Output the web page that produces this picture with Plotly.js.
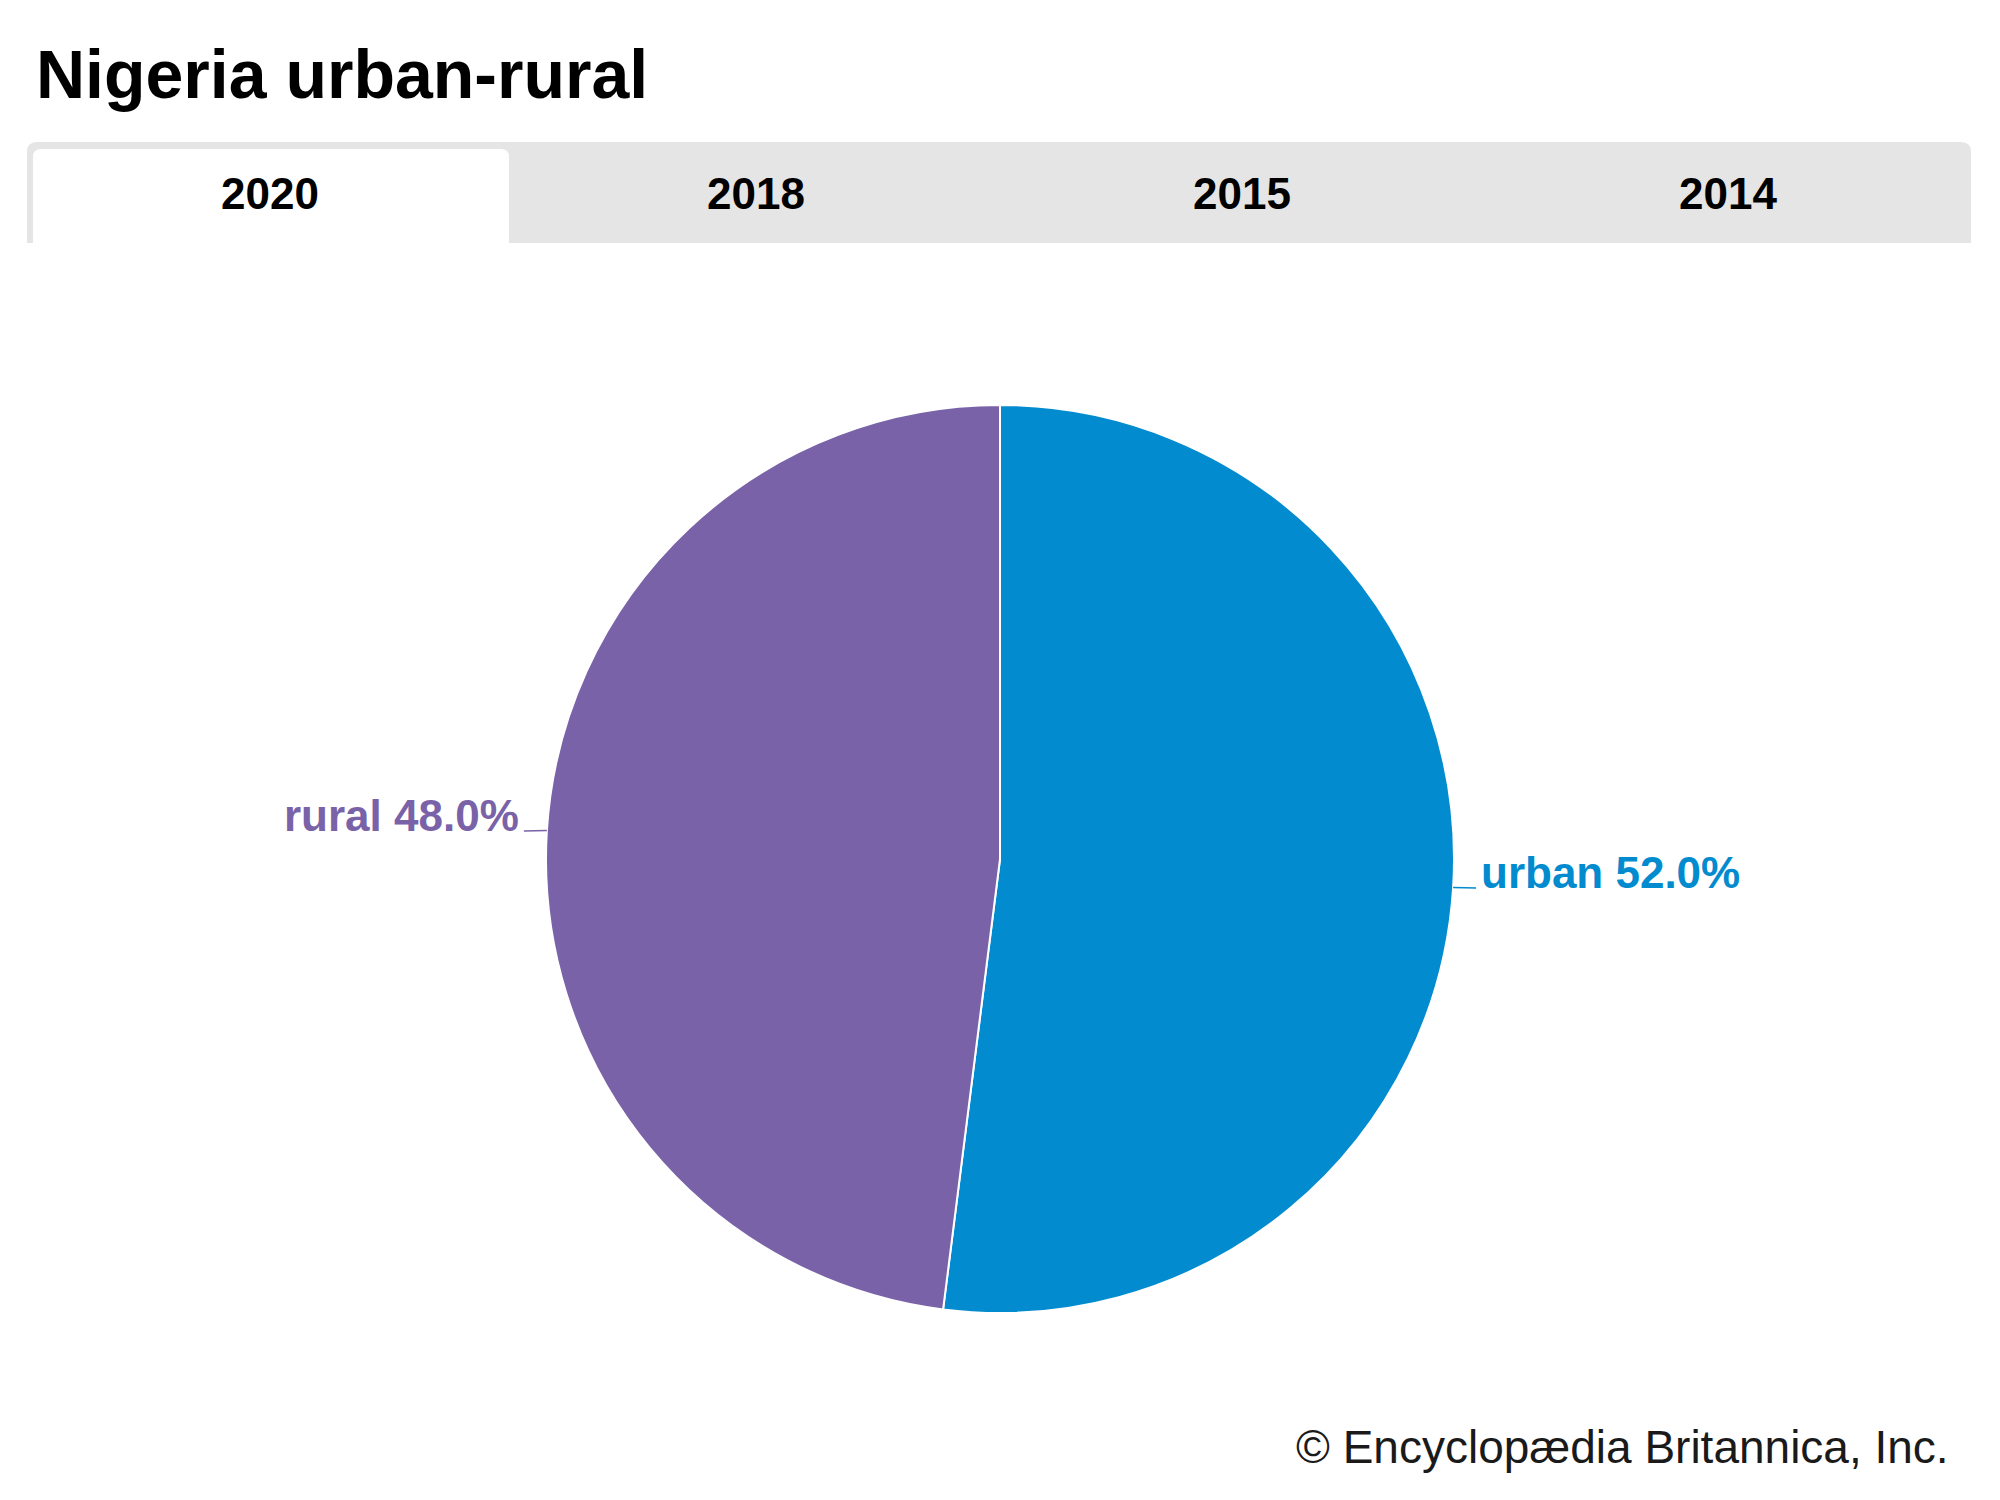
<!DOCTYPE html>
<html>
<head>
<meta charset="utf-8">
<script src="https://cdn.plot.ly/plotly-3.0.1.min.js"></script>
<style>
  html, body { margin: 0; padding: 0; background: #ffffff; }
  #chart { width: 2000px; height: 1500px; }
</style>
</head>
<body>
<div id="chart"></div>
<script>
// ---- data ----
const categories = ['urban', 'rural'];
const shares = [52.0, 48.0];
const sliceColors = ['#038bcf', '#7962a7'];
const tabYears = ['2020', '2018', '2015', '2014'];
const activeTab = '2020';
const chartTitle = 'Nigeria urban-rural';
const credit = '© Encyclopædia Britannica, Inc.';

// ---- layout geometry ----
const W = 2000, H = 1500;
const M = { l: 0, r: 0, t: 405, b: 187 };
const PH = H - M.t - M.b;
const PW = W - M.l - M.r;
const X = px => (px - M.l) / PW;
const Y = py => (H - M.b - py) / PH;
const FONT = '"Liberation Sans", Arial, Helvetica, sans-serif';

// tab bar geometry
const bar = { x0: 27, x1: 1971, y0: 142, y1: 243, r: 10 };
const tabW = (bar.x1 - bar.x0) / tabYears.length;

function roundTopRect(x0, x1, y0, y1, r) {
  const xr = r / PW, yr = r / PH;
  const a = X(x0), b = X(x1), top = Y(y0), bot = Y(y1);
  return `M ${a} ${bot} L ${a} ${top - yr} Q ${a} ${top} ${a + xr} ${top} ` +
         `L ${b - xr} ${top} Q ${b} ${top} ${b} ${top - yr} L ${b} ${bot} Z`;
}

const shapes = [
  { type: 'path', xref: 'paper', yref: 'paper', layer: 'below',
    path: roundTopRect(bar.x0, bar.x1, bar.y0, bar.y1, bar.r),
    fillcolor: '#e5e5e5', line: { width: 0 } }
];
const annotations = [];
tabYears.forEach((yr, i) => {
  const cx = bar.x0 + tabW * (i + 0.5);
  if (yr === activeTab) {
    shapes.push({ type: 'path', xref: 'paper', yref: 'paper', layer: 'below',
      path: roundTopRect(bar.x0 + 6, bar.x0 + tabW * (i + 1) - 4, 149, bar.y1, 8),
      fillcolor: '#ffffff', line: { width: 0 } });
  }
  annotations.push({ text: '<b>' + yr + '</b>', xref: 'paper', yref: 'paper',
    x: X(cx), y: Y(194), xanchor: 'center', yanchor: 'middle', showarrow: false,
    font: { family: FONT, size: 44, color: '#000000' } });
});
annotations.push({ text: credit, xref: 'paper', yref: 'paper',
  x: X(1951), y: Y(1447), xanchor: 'right', yanchor: 'middle', showarrow: false,
  font: { family: FONT, size: 46, color: '#1a1a1a' } });

// ---- outside labels with connectors, placed from the pie's own geometry ----
const pieCx = M.l + PW / 2, pieCy = M.t + PH / 2, pieR = Math.min(PW, PH) / 2;
const total = shares.reduce((s, v) => s + v, 0);
let cum = 0;
shares.forEach((v, i) => {
  const theta = 2 * Math.PI * (cum + v / 2) / total;  // clockwise from 12 o'clock
  cum += v;
  const ex = pieCx + pieR * Math.sin(theta);
  const ey = pieCy - pieR * Math.cos(theta);
  const side = Math.sin(theta) >= 0 ? 1 : -1;
  const lx = ex + side * 23;
  shapes.push({ type: 'line', xref: 'paper', yref: 'paper',
    x0: X(ex), y0: Y(ey), x1: X(lx), y1: Y(ey + 0.5),
    line: { color: sliceColors[i], width: 1.5 } });
  annotations.push({ text: '<b>' + categories[i] + ' ' + v.toFixed(1) + '%</b>',
    xref: 'paper', yref: 'paper', x: X(lx + side * 3), y: Y(ey - 15),
    xanchor: side > 0 ? 'left' : 'right', yanchor: 'middle', showarrow: false,
    font: { family: FONT, size: 44, color: sliceColors[i] } });
});

const trace = {
  type: 'pie',
  labels: categories,
  values: shares,
  sort: false,
  direction: 'clockwise',
  rotation: 0,
  hole: 0,
  marker: { colors: sliceColors, line: { color: '#ffffff', width: 2 } },
  textinfo: 'none',
  showlegend: false,
  hoverinfo: 'label+percent',
  domain: { x: [0, 1], y: [0, 1] }
};

const layout = {
  width: W, height: H,
  margin: M,
  paper_bgcolor: '#ffffff',
  plot_bgcolor: '#ffffff',
  showlegend: false,
  title: { text: '<b>' + chartTitle + '</b>', xref: 'container', yref: 'container',
    x: 36 / W, xanchor: 'left', y: 1 - 74 / H, yanchor: 'middle',
    font: { family: FONT, size: 68, color: '#000000' } },
  shapes: shapes,
  annotations: annotations
};

Plotly.newPlot('chart', [trace], layout, { displayModeBar: false, staticPlot: true });
</script>
</body>
</html>
